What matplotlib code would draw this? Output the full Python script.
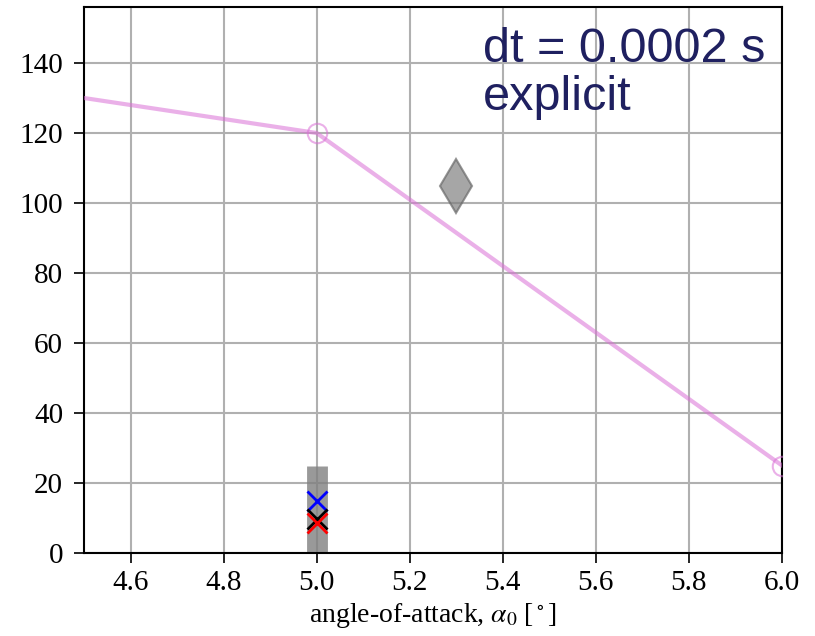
import matplotlib.pyplot as plt

plt.rcParams['font.family'] = ['Liberation Serif', 'DejaVu Serif']
plt.rcParams['mathtext.fontset'] = 'stix'

# pink reference curve
aoa_line = [4.0, 5.0, 6.0]
val_line = [140, 120, 25]

# gray range bar at alpha = 5.0
bar_x = [5.0, 5.0]
bar_y = [0, 25]

# gray diamond
dia_x = [5.3]
dia_y = [105]

# crosses at alpha = 5.0
cross_x = [5.0, 5.0, 5.0]
cross_y = [15, 9.7, 8.5]
cross_c = ['blue', 'black', 'red']

fig = plt.figure(figsize=(8.15, 6.36), dpi=100)
ax = fig.add_axes([84 / 815, 1 - 553 / 636, 698 / 815, 546 / 636])

ax.grid(True, color='#b0b0b0', linewidth=1.5, zorder=0)
ax.set_axisbelow(True)

ax.plot(aoa_line, val_line, color='orchid', alpha=0.55, linewidth=3,
        marker='o', markersize=14, markerfacecolor='none', markeredgewidth=1.5,
        clip_on=True, zorder=3)
ax.plot(bar_x, bar_y, color='gray', alpha=0.8, linewidth=15,
        solid_capstyle='butt', zorder=2)
ax.plot(dia_x, dia_y, linestyle='none', marker='d', markersize=27,
        color='gray', alpha=0.7, markeredgecolor='dimgray', markeredgewidth=1.5,
        zorder=3)
for x, y, c in zip(cross_x, cross_y, cross_c):
    ax.plot([x], [y], linestyle='none', marker='x', markersize=14,
            markeredgewidth=2, color=c, zorder=4)

ax.set_xlim(4.5, 6.0)
ax.set_ylim(0, 156)
ax.set_xticks([4.6, 4.8, 5.0, 5.2, 5.4, 5.6, 5.8, 6.0])
ax.set_yticks([0, 20, 40, 60, 80, 100, 120, 140])
ax.tick_params(labelsize=21, length=7, width=1.2, direction='out')
ax.tick_params(axis='y', pad=8)
ax.tick_params(axis='x', pad=5)
for s in ax.spines.values():
    s.set_linewidth(1.5)
ax.set_xlabel(r'angle-of-attack, $\alpha_0$ [$^\circ$]', fontsize=20, labelpad=4)

fig.text(483 / 815, 1 - 110 / 636, 'dt = 0.0002 s\nexplicit', family='Liberation Sans',
         fontsize=35, color='#1f2060', ha='left', va='baseline', linespacing=1.1)

plt.savefig('out.png', dpi=100)
